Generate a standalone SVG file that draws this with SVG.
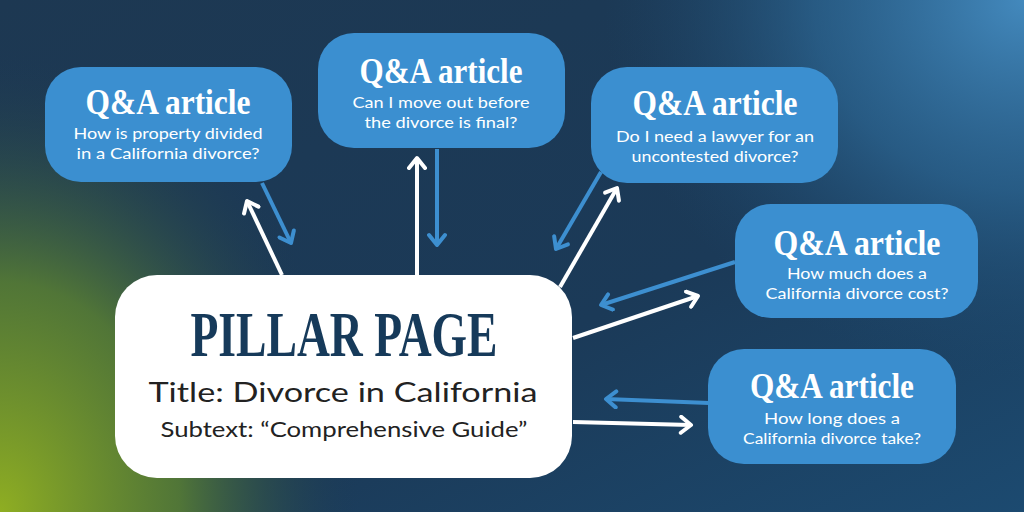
<svg xmlns="http://www.w3.org/2000/svg" width="1024" height="512" viewBox="0 0 1024 512">
<defs>
<linearGradient id="bg" x1="0" y1="0" x2="1" y2="1">
<stop offset="0" stop-color="#1d3852"/>
<stop offset="0.6" stop-color="#1b3a58"/>
<stop offset="1" stop-color="#1c4a70"/>
</linearGradient>
<radialGradient id="green" gradientUnits="userSpaceOnUse" cx="0" cy="0" r="1" gradientTransform="translate(0 512) scale(360 460)">
<stop offset="0" stop-color="#8fae22"/>
<stop offset="0.5" stop-color="#5a8032" stop-opacity="0.85"/>
<stop offset="1" stop-color="#1d3a52" stop-opacity="0"/>
</radialGradient>
<radialGradient id="blue" gradientUnits="userSpaceOnUse" cx="0" cy="0" r="1" gradientTransform="translate(1024 0) scale(420 380)">
<stop offset="0" stop-color="#4389bd"/>
<stop offset="0.5" stop-color="#2e6c9b" stop-opacity="0.65"/>
<stop offset="1" stop-color="#1d4a70" stop-opacity="0"/>
</radialGradient>
<marker id="aw" markerWidth="20" markerHeight="20" refX="0" refY="0" viewBox="-14 -10 16 20" orient="auto" markerUnits="userSpaceOnUse">
<path d="M-10,-8 L0,0 L-10,8" fill="none" stroke="#ffffff" stroke-width="4" stroke-linecap="round" stroke-linejoin="round"/>
</marker>
<marker id="ab" markerWidth="20" markerHeight="20" refX="0" refY="0" viewBox="-14 -10 16 20" orient="auto" markerUnits="userSpaceOnUse">
<path d="M-10,-8 L0,0 L-10,8" fill="none" stroke="#3d8fd0" stroke-width="4" stroke-linecap="round" stroke-linejoin="round"/>
</marker>
<style>
.box{fill:#3b8fd0}
.qa{font-family:"Liberation Serif",serif;font-weight:bold;font-size:36px;fill:#ffffff;text-anchor:middle}
.sub{font-family:Lato,"Liberation Sans",sans-serif;font-size:16px;fill:#ffffff;text-anchor:middle}
.w{stroke:#ffffff;stroke-width:4;fill:none;marker-end:url(#aw)}
.b{stroke:#3d8fd0;stroke-width:4;fill:none;marker-end:url(#ab)}
</style>
</defs>
<rect width="1024" height="512" fill="url(#bg)"/>
<rect width="1024" height="512" fill="url(#blue)"/>
<rect width="1024" height="512" fill="url(#green)"/>

<g id="connectors">
<line class="w" x1="282" y1="275" x2="247" y2="201"/>
<line class="b" x1="262" y1="183" x2="291" y2="243"/>
<line class="w" x1="417" y1="275" x2="417" y2="158"/>
<line class="b" x1="437" y1="149" x2="437" y2="245"/>
<line class="b" x1="601" y1="172" x2="556" y2="249"/>
<line class="w" x1="560" y1="287" x2="617" y2="188"/>
<line class="b" x1="735" y1="262" x2="601" y2="305"/>
<line class="w" x1="573" y1="338" x2="698" y2="296"/>
<line class="b" x1="709" y1="403" x2="606" y2="399"/>
<line class="w" x1="573" y1="422" x2="691" y2="425"/>
</g>

<g id="qa1">
<rect class="box" x="45" y="67" width="247" height="115" rx="36"/>
<text class="qa" x="168" y="114" textLength="165" lengthAdjust="spacingAndGlyphs">Q&amp;A article</text>
<text class="sub" x="168" y="139" textLength="189" lengthAdjust="spacingAndGlyphs">How is property divided</text>
<text class="sub" x="168" y="159" textLength="183" lengthAdjust="spacingAndGlyphs">in a California divorce?</text>
</g>
<g id="qa2">
<rect class="box" x="318" y="33" width="247" height="115" rx="36"/>
<text class="qa" x="441" y="83" textLength="163" lengthAdjust="spacingAndGlyphs">Q&amp;A article</text>
<text class="sub" x="441" y="108" textLength="177" lengthAdjust="spacingAndGlyphs">Can I move out before</text>
<text class="sub" x="441" y="128" textLength="153" lengthAdjust="spacingAndGlyphs">the divorce is final?</text>
</g>
<g id="qa3">
<rect class="box" x="591" y="67" width="247" height="116" rx="36"/>
<text class="qa" x="715" y="115" textLength="165" lengthAdjust="spacingAndGlyphs">Q&amp;A article</text>
<text class="sub" x="715" y="142" textLength="198" lengthAdjust="spacingAndGlyphs">Do I need a lawyer for an</text>
<text class="sub" x="715" y="162" textLength="167" lengthAdjust="spacingAndGlyphs">uncontested divorce?</text>
</g>
<g id="qa4">
<rect class="box" x="735" y="204" width="243" height="114" rx="36"/>
<text class="qa" x="857" y="255" textLength="167" lengthAdjust="spacingAndGlyphs">Q&amp;A article</text>
<text class="sub" x="857" y="279" textLength="140" lengthAdjust="spacingAndGlyphs">How much does a</text>
<text class="sub" x="857" y="299" textLength="183" lengthAdjust="spacingAndGlyphs">California divorce cost?</text>
</g>
<g id="qa5">
<rect class="box" x="708" y="349" width="248" height="115" rx="36"/>
<text class="qa" x="832" y="398" textLength="164" lengthAdjust="spacingAndGlyphs">Q&amp;A article</text>
<text class="sub" x="832" y="424" textLength="136" lengthAdjust="spacingAndGlyphs">How long does a</text>
<text class="sub" x="832" y="444" textLength="178" lengthAdjust="spacingAndGlyphs">California divorce take?</text>
</g>
<g id="pillar">
<rect x="115" y="275" width="457" height="203" rx="42" fill="#ffffff"/>
<text x="344" y="356" font-family="Liberation Serif,serif" font-weight="bold" font-size="64" fill="#163a5a" text-anchor="middle" textLength="307" lengthAdjust="spacingAndGlyphs">PILLAR PAGE</text>
<text x="343" y="402" font-family="Lato,Liberation Sans,sans-serif" font-size="27" fill="#222222" text-anchor="middle" textLength="389" lengthAdjust="spacingAndGlyphs">Title: Divorce in California</text>
<text x="344" y="437" font-family="Lato,Liberation Sans,sans-serif" font-size="21" fill="#222222" text-anchor="middle" textLength="367" lengthAdjust="spacingAndGlyphs">Subtext: “Comprehensive Guide”</text>
</g>
</svg>
